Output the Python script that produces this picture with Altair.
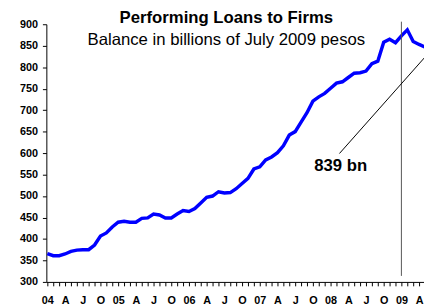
import altair as alt
import pandas as pd

# Monthly balance, Jan 2004 .. Jun 2009 (billions of July 2009 pesos)
months = list(range(66))  # 0 = Jan 2004
values = [366, 361, 361, 365, 371, 374, 375, 375, 386, 407, 414, 428,
          439, 441, 439, 439, 448, 449, 458, 456, 449, 449, 458, 466,
          464, 471, 484, 497, 500, 510, 507, 508, 517, 529, 541, 563,
          568, 584, 591, 601, 617, 642, 650, 672, 694, 721, 731, 739,
          751, 763, 766, 776, 786, 787, 791, 808, 814, 858, 865, 857,
          873, 887, 860, 853, 847, 839]
quarter_labels = ["04", "A", "J", "O", "05", "A", "J", "O", "06", "A", "J", "O",
                  "07", "A", "J", "O", "08", "A", "J", "O", "09", "A", "J", "O"]
y_ticks = [300, 350, 400, 450, 500, 550, 600, 650, 700, 750, 800, 850, 900]
title_text = "Performing Loans to Firms"
subtitle_text = "Balance in billions of July 2009 pesos"
annot_text = "839 bn"

df = pd.DataFrame({"m": months, "v": values})
FONT = "Liberation Sans"
label_arr = "[" + ",".join("'%s'" % s for s in quarter_labels) + "]"

xscale = alt.Scale(domain=[-0.17, 63.83], nice=False, zero=False)
yscale = alt.Scale(domain=[300, 900], nice=False, zero=False)

xaxis = alt.Axis(values=list(range(64)), title=None, grid=False,
                 labelExpr=f"datum.value % 3 == 0 ? {label_arr}[datum.value / 3] : ''",
                 labelOverlap=False, labelFont=FONT, labelFontWeight="bold",
                 labelFontSize=11, labelColor="black", tickSize=4, tickColor="black",
                 domainColor="black", labelPadding=9, labelBaseline="top",
                 labelFlush=False, labelBound=False)
yaxis = alt.Axis(values=y_ticks, title=None, grid=False, labelFont=FONT,
                 labelFontWeight="bold", labelFontSize=11, labelColor="black",
                 tickSize=4, tickColor="black", domainColor="black", labelPadding=5,
                 labelOverlap=False, labelFlush=False)

line = alt.Chart(df).mark_line(color="#0000FF", strokeWidth=3.5, clip=True).encode(
    x=alt.X("m:Q", scale=xscale, axis=xaxis),
    y=alt.Y("v:Q", scale=yscale, axis=yaxis),
)

vline = alt.Chart(pd.DataFrame({"m": [60], "y1": [314], "y2": [906]})).mark_rule(
    color="#555555", strokeWidth=1).encode(
    x=alt.X("m:Q", scale=xscale, axis=xaxis), y=alt.Y("y1:Q", scale=yscale, axis=yaxis), y2="y2:Q")

annot = alt.Chart(pd.DataFrame({"m1": [49.5], "v1": [599], "m2": [65], "v2": [839]})).mark_rule(
    color="black", strokeWidth=1, clip=True).encode(
    x=alt.X("m1:Q", scale=xscale, axis=xaxis), y=alt.Y("v1:Q", scale=yscale, axis=yaxis),
    x2="m2:Q", y2="v2:Q")

annot_label = alt.Chart(pd.DataFrame({"m": [49.7], "v": [570], "t": [annot_text]})).mark_text(
    font=FONT, fontWeight="bold", fontSize=17, align="center", baseline="middle",
    color="black").encode(
    x=alt.X("m:Q", scale=xscale, axis=xaxis), y=alt.Y("v:Q", scale=yscale, axis=yaxis), text="t:N")

title = alt.Chart(pd.DataFrame({"t": [title_text]})).mark_text(
    font=FONT, fontWeight="bold", fontSize=17, align="center", baseline="alphabetic",
    color="black").encode(x=alt.value(183), y=alt.value(-1), text="t:N")

subtitle = alt.Chart(pd.DataFrame({"t": [subtitle_text]})).mark_text(
    font=FONT, fontSize=17, align="center", baseline="alphabetic",
    color="black").encode(x=alt.value(183), y=alt.value(21), text="t:N")

chart = alt.layer(line, vline, annot, annot_label, title, subtitle).properties(
    width=384, height=262,
    autosize=alt.AutoSizeParams(type="none"),
    padding={"left": 39, "top": 14, "right": 0, "bottom": 24},
).configure_view(stroke=None)

chart.save("out.html", embed_options={"renderer": "svg", "actions": False})
